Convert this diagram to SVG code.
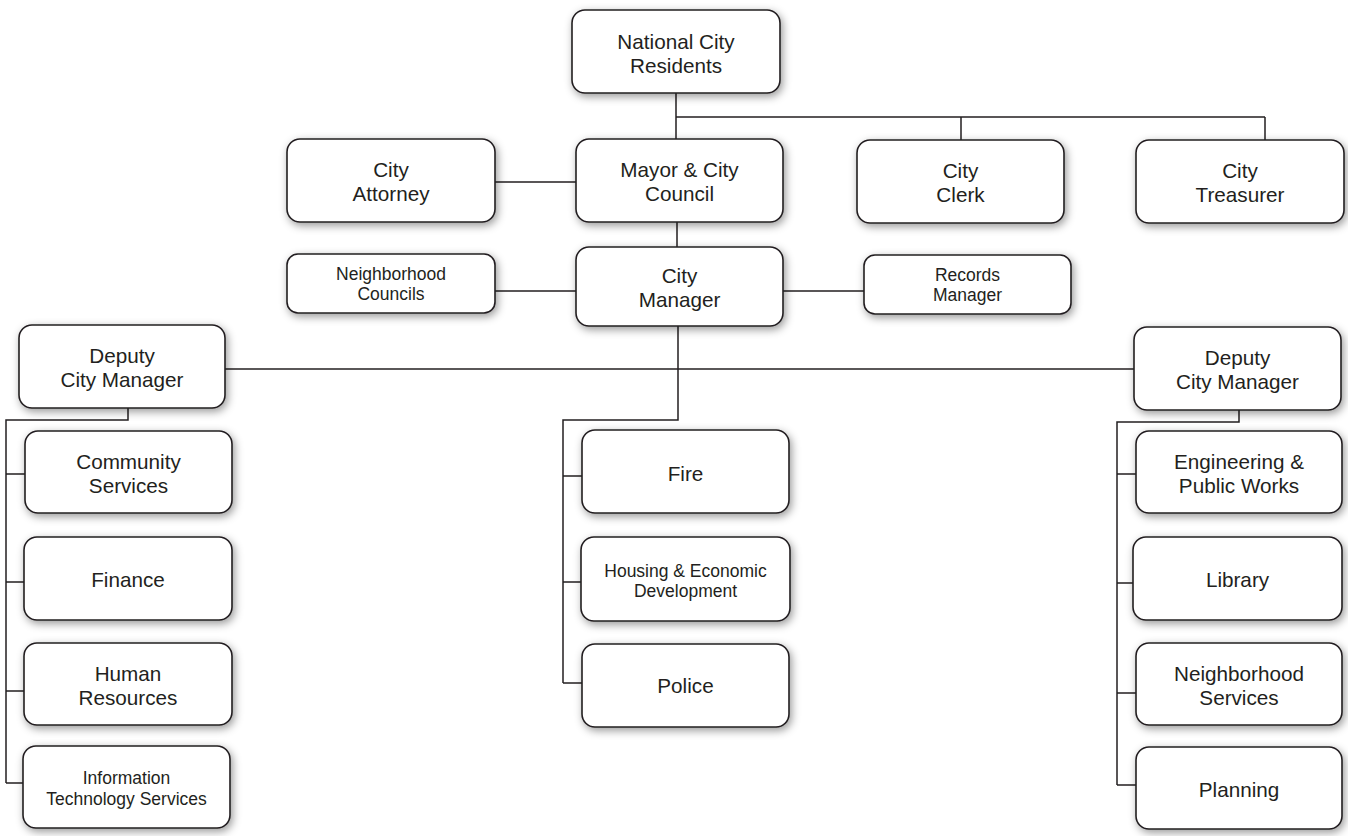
<svg xmlns="http://www.w3.org/2000/svg" width="1348" height="836" viewBox="0 0 1348 836">
<defs>
<filter id="glow" x="-10%" y="-20%" width="125%" height="145%">
<feDropShadow dx="2" dy="3" stdDeviation="4" flood-color="#000" flood-opacity="0.4"/>
</filter>
<style>
.box{fill:#fff;stroke:#231f20;stroke-width:1.6;filter:url(#glow)}
.t{font-family:"Liberation Sans",Arial,sans-serif;font-size:20.7px;fill:#231f20;text-anchor:middle}
.s{font-family:"Liberation Sans",Arial,sans-serif;font-size:17.5px;fill:#231f20;text-anchor:middle}
.c{fill:none;stroke:#231f20;stroke-width:1.5}
</style>
</defs>
<rect width="1348" height="836" fill="#fff"/>
<g id="connectors">
<path class="c" d="M676,93 V139 M676,117 H1265 M961,117 V140 M1265,117 V140"/>
<path class="c" d="M495,182 H576 M677,222 V247 M495,291 H576 M783,291 H864"/>
<path class="c" d="M225,369 H1134"/>
<path class="c" d="M678,326 V420 H563 V683 M563,476 H582 M563,582 H581 M563,683 H582"/>
<path class="c" d="M128,408 V420 H6 V783 M6,474 H25 M6,582 H24 M6,691 H24 M6,783 H23"/>
<path class="c" d="M1239,410 V422 H1117 V785 M1117,474 H1136 M1117,583 H1133 M1117,693 H1136 M1117,785 H1136"/>
</g>
<g id="residents"><rect class="box" x="572" y="10" width="208" height="83" rx="13"/><text class="t" x="676" y="49">National City</text><text class="t" x="676" y="73">Residents</text></g>
<g id="attorney"><rect class="box" x="287" y="139" width="208" height="83" rx="13"/><text class="t" x="391" y="177">City</text><text class="t" x="391" y="201">Attorney</text></g>
<g id="mayor"><rect class="box" x="576" y="139" width="207" height="83" rx="13"/><text class="t" x="679.5" y="177">Mayor &amp; City</text><text class="t" x="679.5" y="201">Council</text></g>
<g id="clerk"><rect class="box" x="857" y="140" width="207" height="83" rx="13"/><text class="t" x="960.5" y="178">City</text><text class="t" x="960.5" y="202">Clerk</text></g>
<g id="treasurer"><rect class="box" x="1136" y="140" width="208" height="83" rx="13"/><text class="t" x="1240" y="178">City</text><text class="t" x="1240" y="202">Treasurer</text></g>
<g id="neighborhood-councils"><rect class="box" x="287" y="254" width="208" height="59" rx="11"/><text class="s" x="391" y="280">Neighborhood</text><text class="s" x="391" y="300">Councils</text></g>
<g id="city-manager"><rect class="box" x="576" y="247" width="207" height="79" rx="13"/><text class="t" x="679.5" y="283">City</text><text class="t" x="679.5" y="307">Manager</text></g>
<g id="records-manager"><rect class="box" x="864" y="255" width="207" height="59" rx="11"/><text class="s" x="967.5" y="281">Records</text><text class="s" x="967.5" y="301">Manager</text></g>
<g id="deputy-left"><rect class="box" x="19" y="325" width="206" height="83" rx="13"/><text class="t" x="122" y="363">Deputy</text><text class="t" x="122" y="387">City Manager</text></g>
<g id="deputy-right"><rect class="box" x="1134" y="327" width="207" height="83" rx="13"/><text class="t" x="1237.5" y="365">Deputy</text><text class="t" x="1237.5" y="389">City Manager</text></g>
<g id="community-services"><rect class="box" x="25" y="431" width="207" height="82" rx="13"/><text class="t" x="128.5" y="469">Community</text><text class="t" x="128.5" y="493">Services</text></g>
<g id="finance"><rect class="box" x="24" y="537" width="208" height="83" rx="13"/><text class="t" x="128" y="587">Finance</text></g>
<g id="human-resources"><rect class="box" x="24" y="643" width="208" height="82" rx="13"/><text class="t" x="128" y="681">Human</text><text class="t" x="128" y="705">Resources</text></g>
<g id="it-services"><rect class="box" x="23" y="746" width="207" height="82" rx="13"/><text class="s" x="126.5" y="784">Information</text><text class="s" x="126.5" y="805">Technology Services</text></g>
<g id="fire"><rect class="box" x="582" y="430" width="207" height="83" rx="13"/><text class="t" x="685.5" y="481">Fire</text></g>
<g id="housing"><rect class="box" x="581" y="537" width="209" height="84" rx="13"/><text class="s" x="685.5" y="577">Housing &amp; Economic</text><text class="s" x="685.5" y="597">Development</text></g>
<g id="police"><rect class="box" x="582" y="644" width="207" height="83" rx="13"/><text class="t" x="685.5" y="693">Police</text></g>
<g id="engineering"><rect class="box" x="1136" y="431" width="206" height="82" rx="13"/><text class="t" x="1239" y="469">Engineering &amp;</text><text class="t" x="1239" y="493">Public Works</text></g>
<g id="library"><rect class="box" x="1133" y="537" width="209" height="83" rx="13"/><text class="t" x="1237.5" y="587">Library</text></g>
<g id="neighborhood-services"><rect class="box" x="1136" y="643" width="206" height="82" rx="13"/><text class="t" x="1239" y="681">Neighborhood</text><text class="t" x="1239" y="705">Services</text></g>
<g id="planning"><rect class="box" x="1136" y="747" width="206" height="82" rx="13"/><text class="t" x="1239" y="797">Planning</text></g>
</svg>
